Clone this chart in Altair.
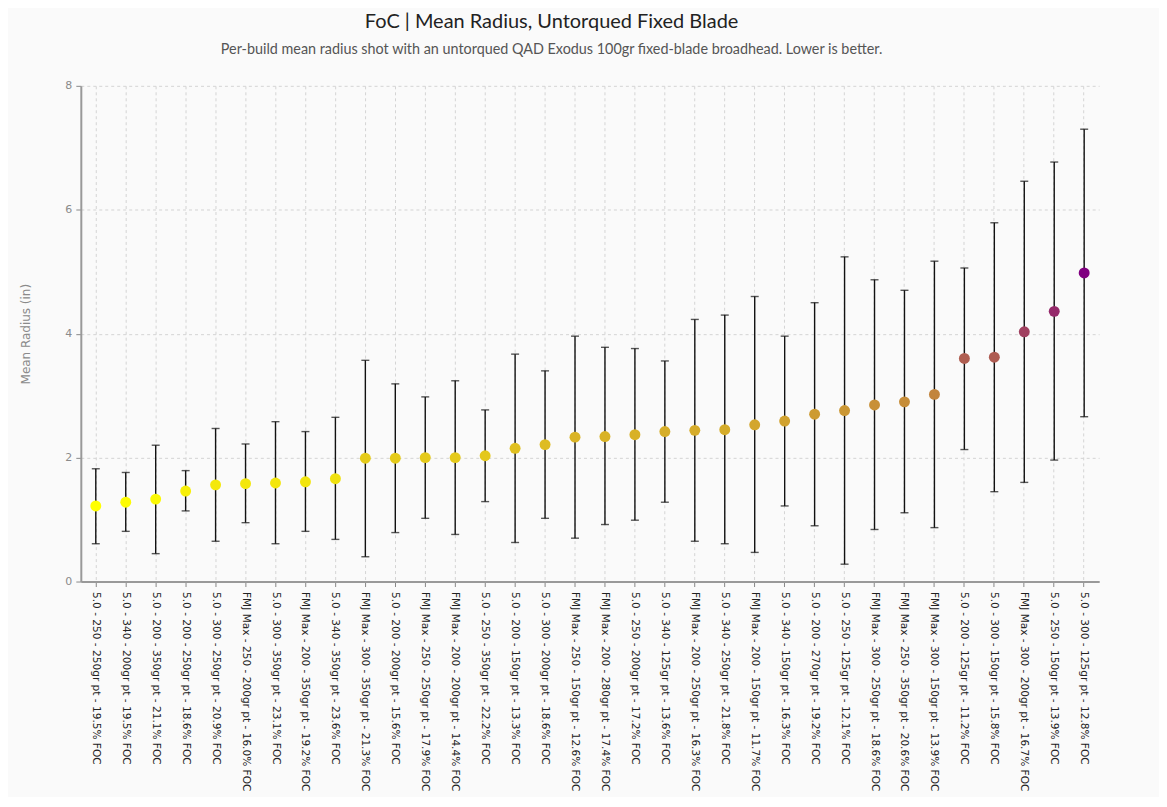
import altair as alt
import pandas as pd

builds = [
    "5.0 - 250 - 250gr pt - 19.5% FOC",
    "5.0 - 340 - 200gr pt - 19.5% FOC",
    "5.0 - 200 - 350gr pt - 21.1% FOC",
    "5.0 - 200 - 250gr pt - 18.6% FOC",
    "5.0 - 300 - 250gr pt - 20.9% FOC",
    "FMJ Max - 250 - 200gr pt - 16.0% FOC",
    "5.0 - 300 - 350gr pt - 23.1% FOC",
    "FMJ Max - 200 - 350gr pt - 19.2% FOC",
    "5.0 - 340 - 350gr pt - 23.6% FOC",
    "FMJ Max - 300 - 350gr pt - 21.3% FOC",
    "5.0 - 200 - 200gr pt - 15.6% FOC",
    "FMJ Max - 250 - 250gr pt - 17.9% FOC",
    "FMJ Max - 200 - 200gr pt - 14.4% FOC",
    "5.0 - 250 - 350gr pt - 22.2% FOC",
    "5.0 - 200 - 150gr pt - 13.3% FOC",
    "5.0 - 300 - 200gr pt - 18.6% FOC",
    "FMJ Max - 250 - 150gr pt - 12.6% FOC",
    "FMJ Max - 200 - 280gr pt - 17.4% FOC",
    "5.0 - 250 - 200gr pt - 17.2% FOC",
    "5.0 - 340 - 125gr pt - 13.6% FOC",
    "FMJ Max - 200 - 250gr pt - 16.3% FOC",
    "5.0 - 340 - 250gr pt - 21.8% FOC",
    "FMJ Max - 200 - 150gr pt - 11.7% FOC",
    "5.0 - 340 - 150gr pt - 16.3% FOC",
    "5.0 - 200 - 270gr pt - 19.2% FOC",
    "5.0 - 250 - 125gr pt - 12.1% FOC",
    "FMJ Max - 300 - 250gr pt - 18.6% FOC",
    "FMJ Max - 250 - 350gr pt - 20.6% FOC",
    "FMJ Max - 300 - 150gr pt - 13.9% FOC",
    "5.0 - 200 - 125gr pt - 11.2% FOC",
    "5.0 - 300 - 150gr pt - 15.8% FOC",
    "FMJ Max - 300 - 200gr pt - 16.7% FOC",
    "5.0 - 250 - 150gr pt - 13.9% FOC",
    "5.0 - 300 - 125gr pt - 12.8% FOC",
]

mean_radius = [1.22, 1.28, 1.33, 1.46, 1.56, 1.58, 1.59, 1.61, 1.66, 1.99,
               1.99, 2.00, 2.00, 2.03, 2.15, 2.21, 2.33, 2.34, 2.37, 2.42,
               2.44, 2.45, 2.53, 2.59, 2.70, 2.76, 2.85, 2.90, 3.02, 3.60,
               3.62, 4.03, 4.36, 4.98]

upper = [1.82, 1.76, 2.20, 1.79, 2.47, 2.22, 2.58, 2.42, 2.65, 3.57,
         3.19, 2.98, 3.24, 2.77, 3.67, 3.40, 3.96, 3.78, 3.76, 3.56,
         4.23, 4.30, 4.60, 3.96, 4.50, 5.24, 4.87, 4.70, 5.17, 5.06,
         5.79, 6.46, 6.77, 7.30]

lower = [0.61, 0.81, 0.45, 1.14, 0.65, 0.95, 0.61, 0.81, 0.68, 0.40,
         0.79, 1.02, 0.76, 1.29, 0.63, 1.02, 0.70, 0.92, 0.99, 1.28,
         0.65, 0.61, 0.47, 1.22, 0.90, 0.28, 0.84, 1.11, 0.87, 2.13,
         1.45, 1.60, 1.96, 2.66]

df = pd.DataFrame({"build": builds, "mean": mean_radius, "upper": upper, "lower": lower})

x_enc = alt.X(
    "build:N",
    sort=builds,
    title=None,
    scale=alt.Scale(paddingInner=0, paddingOuter=0),
    axis=alt.Axis(
        labelAngle=90,
        labelAlign="left",
        labelBaseline="middle",
        labelFont="DejaVu Sans",
        labelFontSize=10.6,
        labelColor="#222222",
        labelPadding=5,
        labelLimit=400,
        tickSize=5,
        tickColor="#888888",
        domainColor="#999999",
        domainWidth=2,
        grid=True,
        gridDash=[3, 3],
        gridColor="#d4d4d4",
    ),
)

y_scale = alt.Scale(domain=[0, 8])
y_axis = alt.Axis(
    values=[0, 2, 4, 6, 8],
    format="d",
    title="Mean Radius (in)",
    titleFont="DejaVu Sans",
    titleFontSize=12,
    titleFontWeight="normal",
    titleColor="#8a8a8a",
    titlePadding=32,
    labelFont="DejaVu Sans",
    labelFontSize=11,
    labelColor="#8a8a8a",
    labelPadding=4,
    tickSize=5,
    tickColor="#888888",
    domainColor="#999999",
    domainWidth=2,
    grid=True,
    gridDash=[3, 3],
    gridColor="#d4d4d4",
)

base = alt.Chart(df)

rules = base.mark_rule(color="#111111", strokeWidth=1.4).encode(
    x=x_enc,
    y=alt.Y("lower:Q", scale=y_scale, axis=y_axis),
    y2="upper:Q",
)

caps_top = base.mark_tick(color="#111111", thickness=1.4, size=8).encode(
    x=x_enc, y=alt.Y("upper:Q", scale=y_scale)
)
caps_bot = base.mark_tick(color="#111111", thickness=1.4, size=8).encode(
    x=x_enc, y=alt.Y("lower:Q", scale=y_scale)
)

points = base.mark_circle(size=120, opacity=1).encode(
    x=x_enc,
    y=alt.Y("mean:Q", scale=y_scale),
    color=alt.Color(
        "mean:Q",
        scale=alt.Scale(
            domain=[min(mean_radius), max(mean_radius)],
            range=["#ffff00", "#800080"],
            interpolate="rgb",
        ),
        legend=None,
    ),
)

chart = (
    alt.layer(rules, caps_top, caps_bot, points)
    .properties(
        width=1021,
        height=497,
        background="#fafafa",
        padding={"top": 2, "left": 12, "right": 60, "bottom": 5},
        title=alt.TitleParams(
            text="FoC | Mean Radius, Untorqued Fixed Blade",
            subtitle="Per-build mean radius shot with an untorqued QAD Exodus 100gr fixed-blade broadhead. Lower is better.",
            anchor="middle",
            frame="bounds",
            dx=-8,
            font="Lato",
            fontSize=20,
            fontWeight="normal",
            color="#222222",
            subtitleFont="Lato",
            subtitleFontSize=14.4,
            subtitleColor="#555555",
            subtitlePadding=11,
            offset=24,
        ),
    )
    .configure_view(stroke=None)
)

chart.save("out.html", embed_options={"renderer": "svg", "actions": False})
